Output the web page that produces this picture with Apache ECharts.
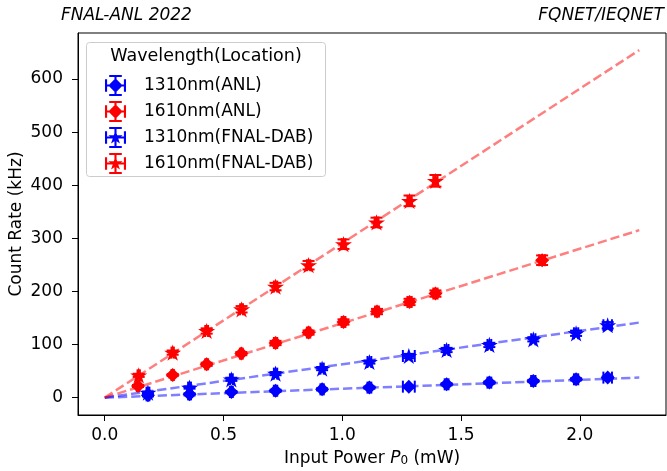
<!DOCTYPE html>
<html>
<head>
<meta charset="utf-8">
<script src="https://cdn.jsdelivr.net/npm/echarts@6.0.0/dist/echarts.min.js"></script>
<style>
  html, body { margin: 0; padding: 0; background: #fff; }
  #chart { width: 667px; height: 471px; }
</style>
</head>
<body>
<div id="chart"></div>
<script>
// input power (mW) of each point
var xBlue = [0.182, 0.357, 0.533, 0.719, 0.915, 1.114, 1.280, 1.439, 1.619, 1.804, 1.984, 2.117];
var xRedFnal = [0.143, 0.286, 0.429, 0.576, 0.719, 0.858, 1.005, 1.144, 1.283, 1.392];
var xRedAnl = [0.140, 0.286, 0.429, 0.575, 0.719, 0.858, 1.005, 1.146, 1.283, 1.392, 1.841];

// count rates (kHz)
var yBlueAnl = [4.3, 6.2, 10.6, 13.0, 15.6, 18.9, 20.7, 25.1, 28.3, 31.3, 34.5, 37.7];
var yBlueFnal = [9.4, 18.9, 34.5, 45.2, 54.7, 67.1, 78.4, 89.7, 99.2, 109.9, 121.2, 136.3];
var yRedAnl = [21.9, 42.6, 62.8, 82.9, 102.9, 122.5, 142.5, 162.1, 180.2, 196.0, 258.8];
var yRedFnal = [42.0, 84.8, 125.5, 166.4, 209.2, 249.4, 289.0, 329.9, 370.6, 408.3];

// error bars
var xErrBlue = [0.006, 0.006, 0.006, 0.007, 0.007, 0.008, 0.025, 0.008, 0.008, 0.009, 0.009, 0.018];
var yErrBlueAnl = [2, 2, 2, 2, 2, 2, 2, 2, 2, 2, 2, 2];
var yErrBlueFnal = [2, 2, 3, 3, 3, 3, 4, 4, 4, 4, 5, 6];
var xErrRedFnal = [0.005, 0.005, 0.006, 0.006, 0.007, 0.007, 0.008, 0.008, 0.009, 0.009];
var yErrRedFnal = [3, 4, 5, 6, 7, 8, 9, 9, 10, 11];
var xErrRedAnl = [0.005, 0.005, 0.006, 0.006, 0.007, 0.007, 0.008, 0.008, 0.009, 0.009, 0.012];
var yErrRedAnl = [2, 2, 3, 3, 4, 4, 5, 5, 6, 6, 9];

// linear fits, read at both ends
var fitX = [0, 2.25];
var fitBlueAnl = [0, 37.7];
var fitBlueFnal = [0, 141.4];
var fitRedAnl = [0, 315.4];
var fitRedFnal = [0, 654.5];

var xTicks = [0, 0.5, 1.0, 1.5, 2.0];
var yTicks = [0, 100, 200, 300, 400, 500, 600];

var names = ['1310nm(ANL)', '1610nm(ANL)', '1310nm(FNAL-DAB)', '1610nm(FNAL-DAB)'];

var FONT = 'DejaVu Sans';
var BLUE = '#0000ff', RED = '#ff0000';

var starPath = 'path://M100 0 L122.45 69.1 L195.1 69.1 L136.33 111.8 L158.8 180.9 L100 138.2 L41.2 180.9 L63.67 111.8 L4.9 69.1 L77.55 69.1 Z';

// legend icons: errorbar cross with caps + marker
var barsPath = 'M0 45 L100 45 L100 55 L0 55 Z M0 20 L10 20 L10 80 L0 80 Z M90 20 L100 20 L100 80 L90 80 Z ' +
               'M45 0 L55 0 L55 100 L45 100 Z M20 0 L80 0 L80 10 L20 10 Z M20 90 L80 90 L80 100 L20 100 Z ';
var iconDiamond = 'path://' + barsPath + 'M50 16 L84 50 L50 84 L16 50 Z';
var iconStar = 'path://' + barsPath + 'M50 14 L58.1 38.9 L84.2 38.9 L63.1 54.2 L71.2 79.1 L50 63.7 L28.8 79.1 L36.9 54.2 L15.8 38.9 L41.9 38.9 Z';

function pts(xs, ys) {
    return xs.map(function (x, i) { return [x, ys[i]]; });
}
function errPts(xs, ys, ex, ey) {
    return xs.map(function (x, i) { return [x, ys[i], ex[i], ey[i]]; });
}

function renderErr(params, api) {
    var x = api.value(0), y = api.value(1), ex = api.value(2), ey = api.value(3);
    var l = api.coord([x - ex, y]), r = api.coord([x + ex, y]);
    var t = api.coord([x, y + ey]), b = api.coord([x, y - ey]);
    var cap = 6;
    var st = { stroke: api.visual('color'), lineWidth: 2 };
    function ln(x1, y1, x2, y2) {
        return { type: 'line', shape: { x1: x1, y1: y1, x2: x2, y2: y2 }, style: st };
    }
    return {
        type: 'group',
        children: [
            ln(l[0], l[1], r[0], r[1]),
            ln(l[0], l[1] - cap, l[0], l[1] + cap),
            ln(r[0], r[1] - cap, r[0], r[1] + cap),
            ln(t[0], t[1], b[0], b[1]),
            ln(t[0] - cap, t[1], t[0] + cap, t[1]),
            ln(b[0] - cap, b[1], b[0] + cap, b[1])
        ]
    };
}

function fitLine(ys, color) {
    return {
        type: 'line', data: pts(fitX, ys), symbol: 'none', silent: true, z: 1,
        lineStyle: { color: color, width: 2.5, type: [9.25, 4] }
    };
}
function marks(name, data, color, isStar) {
    return {
        name: name, type: 'scatter', data: data, z: 5,
        symbol: isStar ? starPath : 'diamond',
        symbolSize: isStar ? [17, 16.2] : [14, 14],
        itemStyle: { color: color, opacity: 1 }
    };
}
function errs(name, data, color) {
    return {
        name: name + ' err', type: 'custom', data: data, z: 4, silent: true,
        renderItem: renderErr, itemStyle: { color: color }
    };
}

var chart = echarts.init(document.getElementById('chart'), null, { renderer: 'canvas' });

var option = {
    animation: false,
    textStyle: { fontFamily: FONT },
    grid: {
        left: 78, top: 33, width: 588, height: 382,
        containLabel: false, outerBoundsMode: 'none',
        show: true, borderColor: '#000', borderWidth: 1
    },
    xAxis: {
        type: 'value', min: -0.1125, max: 2.3625,
        name: 'Input Power {p|P}{s|0} (mW)', nameLocation: 'middle', nameGap: 35, nameMoveOverlap: false,
        nameTextStyle: {
            fontFamily: FONT, fontSize: 17, color: '#000',
            rich: {
                p: { fontFamily: FONT, fontSize: 17, fontStyle: 'italic', color: '#000' },
                s: { fontFamily: FONT, fontSize: 12, color: '#000', verticalAlign: 'bottom', lineHeight: 10 }
            }
        },
        axisLine: { show: true, onZero: false, lineStyle: { color: '#000', width: 1 } },
        axisTick: { show: true, length: 6, lineStyle: { color: '#000' }, customValues: xTicks },
        axisLabel: {
            customValues: xTicks, margin: 12, fontFamily: FONT, fontSize: 17, color: '#000',
            formatter: function (v) { return v.toFixed(1); }
        },
        splitLine: { show: false }
    },
    yAxis: {
        type: 'value', min: -32.7, max: 686.7,
        name: 'Count Rate (kHz)', nameLocation: 'middle', nameGap: 53, nameMoveOverlap: false,
        nameTextStyle: { fontFamily: FONT, fontSize: 17, color: '#000' },
        axisLine: { show: true, onZero: false, lineStyle: { color: '#000', width: 1 } },
        axisTick: { show: true, length: 6, lineStyle: { color: '#000' }, customValues: yTicks },
        axisLabel: { customValues: yTicks, margin: 15, fontFamily: FONT, fontSize: 17, color: '#000' },
        splitLine: { show: false }
    },
    legend: {
        orient: 'vertical', left: 100, top: 70, itemWidth: 21, itemHeight: 21, itemGap: 5,
        selectedMode: false, z: 10,
        textStyle: { fontFamily: FONT, fontSize: 17, color: '#000', padding: [0, 0, 0, 13] },
        data: [
            { name: names[0], icon: iconDiamond },
            { name: names[1], icon: iconDiamond },
            { name: names[2], icon: iconStar },
            { name: names[3], icon: iconStar }
        ]
    },
    graphic: [
        {
            type: 'rect', z: 9, shape: { x: 86.5, y: 42.5, width: 239, height: 134, r: 3 },
            style: { fill: 'rgba(255,255,255,0.8)', stroke: '#cccccc', lineWidth: 1 }
        },
        {
            type: 'text', z: 10, x: 206, y: 56,
            style: { text: 'Wavelength(Location)', font: '17.5px "DejaVu Sans"', fill: '#000', align: 'center', verticalAlign: 'middle' }
        },
        {
            type: 'text', x: 61, y: 16,
            style: { text: 'FNAL-ANL 2022', font: 'italic 17px "DejaVu Sans"', fill: '#000', align: 'left', verticalAlign: 'middle' }
        },
        {
            type: 'text', x: 664, y: 16,
            style: { text: 'FQNET/IEQNET', font: 'italic 17px "DejaVu Sans"', fill: '#000', align: 'right', verticalAlign: 'middle' }
        }
    ],
    series: [
        fitLine(fitBlueAnl, 'rgba(0,0,255,0.5)'),
        fitLine(fitRedAnl, 'rgba(255,0,0,0.5)'),
        fitLine(fitBlueFnal, 'rgba(0,0,255,0.5)'),
        fitLine(fitRedFnal, 'rgba(255,0,0,0.5)'),
        errs(names[0], errPts(xBlue, yBlueAnl, xErrBlue, yErrBlueAnl), BLUE),
        errs(names[1], errPts(xRedAnl, yRedAnl, xErrRedAnl, yErrRedAnl), RED),
        errs(names[2], errPts(xBlue, yBlueFnal, xErrBlue, yErrBlueFnal), BLUE),
        errs(names[3], errPts(xRedFnal, yRedFnal, xErrRedFnal, yErrRedFnal), RED),
        marks(names[0], pts(xBlue, yBlueAnl), BLUE, false),
        marks(names[1], pts(xRedAnl, yRedAnl), RED, false),
        marks(names[2], pts(xBlue, yBlueFnal), BLUE, true),
        marks(names[3], pts(xRedFnal, yRedFnal), RED, true)
    ]
};

chart.setOption(option);
</script>
</body>
</html>
